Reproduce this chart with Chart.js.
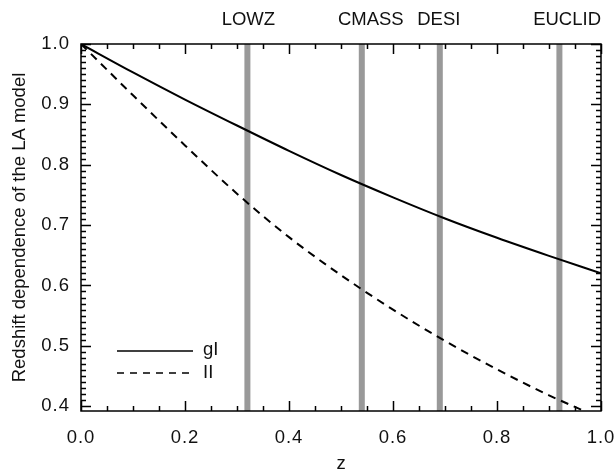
<!DOCTYPE html>
<html><head><meta charset="utf-8">
<script src="https://cdn.jsdelivr.net/npm/chart.js@4/dist/chart.umd.min.js"></script>
<style>html,body{margin:0;padding:0;background:#fff}#wrap{width:615px;height:475px}</style>
</head><body><div id="wrap"><canvas id="c" width="615" height="475"></canvas></div>
<script>
const zValues = [0.0,0.1,0.2,0.3,0.4,0.5,0.6,0.7,0.8,0.9,1.0];
const gIValues = [1.000,0.953,0.908,0.865,0.823,0.783,0.746,0.711,0.679,0.649,0.620];
const IIValues = [1.000,0.915,0.832,0.752,0.680,0.617,0.560,0.508,0.461,0.418,0.380];
const surveyNames = ['LOWZ','CMASS','DESI','EUCLID'];
const surveyZ = [0.32,0.54,0.69,0.92];
const yTickValues = [0.4,0.5,0.6,0.7,0.8,0.9,1.0];
const xTickValues = [0.0,0.2,0.4,0.6,0.8,1.0];
const seriesNames = ['gI','II'];
const Y_MIN = 0.392, Y_MAX = 1.0;
const FONT = '"Liberation Sans", Arial, Helvetica, sans-serif';
const FS = 18.5;
// label nudges in pixels (layout only)
const surveyLabelShift = [1, 9, -1, 0];

const datasets = [];
surveyZ.forEach((z,i)=>{
  datasets.push({label:surveyNames[i], data:[{x:z,y:Y_MIN},{x:z,y:Y_MAX}], borderColor:'#999999', borderWidth:6, pointRadius:0, borderCapStyle:'butt', order:2});
});
datasets.push({label:seriesNames[0], data:zValues.map((z,i)=>({x:z,y:gIValues[i]})), borderColor:'#000', borderWidth:2, pointRadius:0, cubicInterpolationMode:'monotone', order:1});
datasets.push({label:seriesNames[1], data:zValues.map((z,i)=>({x:z,y:IIValues[i]})), borderColor:'#000', borderWidth:2, borderDash:[8,6], pointRadius:0, cubicInterpolationMode:'monotone', order:1});

function wrapSpacing(obj, name, sp){
  const orig = obj[name];
  obj[name] = function(){ const c = this.ctx; c.letterSpacing = sp; const r = orig.apply(this, arguments); c.letterSpacing = '0px'; return r; };
}

const decor = {
  id:'decor',
  afterLayout(chart){
    ['x','y'].forEach(id=>{
      const s = chart.scales[id];
      if (s._wrapped) return; s._wrapped = true;
      wrapSpacing(s, 'drawLabels', '1px');
    });
  },
  afterDraw(chart){
    const ctx = chart.ctx, a = chart.chartArea, xs = chart.scales.x, ys = chart.scales.y;
    ctx.save();
    ctx.strokeStyle = '#000'; ctx.lineWidth = 1.5; ctx.setLineDash([]);
    ctx.strokeRect(a.left, a.top, a.right-a.left, a.bottom-a.top);
    ctx.beginPath();
    for (let k=0;k<=20;k++){
      const px = Math.round(xs.getPixelForValue(k*0.05))+0.5;
      const len = (k%4===0)?10:5;
      ctx.moveTo(px,a.bottom); ctx.lineTo(px,a.bottom-len);
      ctx.moveTo(px,a.top); ctx.lineTo(px,a.top+len);
    }
    for (let k=39;k<=100;k++){
      const v = k/100; if (v < Y_MIN-1e-9) continue;
      const py = Math.round(ys.getPixelForValue(v))+0.5;
      const len = (k%10===0)?10:5;
      ctx.moveTo(a.left,py); ctx.lineTo(a.left+len,py);
      ctx.moveTo(a.right,py); ctx.lineTo(a.right-len,py);
    }
    ctx.stroke();
    ctx.fillStyle = '#111'; ctx.font = FS+'px '+FONT; ctx.textBaseline = 'middle';
    surveyNames.forEach((n,i)=>{
      const px = xs.getPixelForValue(surveyZ[i]);
      const w = ctx.measureText(n).width;
      let cx = px + surveyLabelShift[i];
      if (i===surveyNames.length-1) cx = a.right - w/2;
      ctx.textAlign='center'; ctx.fillText(n, cx, 20);
    });
    const lx0 = a.left+36, lx1 = a.left+112, ly1 = a.bottom-60, ly2 = a.bottom-38;
    ctx.lineWidth = 1.5;
    ctx.beginPath(); ctx.moveTo(lx0,ly1); ctx.lineTo(lx1,ly1); ctx.stroke();
    ctx.setLineDash([7,6]);
    ctx.beginPath(); ctx.moveTo(lx0,ly2); ctx.lineTo(lx1,ly2); ctx.stroke();
    ctx.setLineDash([]);
    ctx.textAlign='left';
    ctx.fillText(seriesNames[0], lx1+10, ly1-1);
    ctx.fillText(seriesNames[1], lx1+10, ly2);
    ctx.restore();
  }
};

new Chart(document.getElementById('c'), {
  type:'line',
  data:{datasets},
  plugins:[decor],
  options:{
    responsive:false, animation:false, devicePixelRatio:1,
    layout:{autoPadding:false, padding:{top:44,right:14,left:0,bottom:0}},
    plugins:{legend:{display:false}, tooltip:{enabled:false}},
    scales:{
      x:{type:'linear', min:0, max:1,
        afterFit(s){ s.height = 64; s.paddingLeft = 0; s.paddingRight = 0; },
        afterBuildTicks(s){ s.ticks = xTickValues.map(v=>({value:v})); },
        grid:{display:false, drawTicks:false}, border:{display:false},
        ticks:{padding:16, color:'#111', font:{family:FONT,size:FS}, maxRotation:0, autoSkip:false, callback:v=>Number(v).toFixed(1)},
        title:{display:true, text:'z', color:'#111', font:{family:FONT,size:FS}, padding:{top:2,bottom:0}}
      },
      y:{type:'linear', min:Y_MIN, max:Y_MAX,
        afterFit(s){ s.width = 81; s.paddingTop = 0; s.paddingBottom = 0; },
        afterBuildTicks(s){ s.ticks = yTickValues.map(v=>({value:v})); },
        grid:{display:false, drawTicks:false}, border:{display:false},
        ticks:{padding:11, color:'#111', font:{family:FONT,size:FS}, autoSkip:false, callback:v=>Number(v).toFixed(1)},
        title:{display:true, text:'Redshift dependence of the LA model', color:'#111', font:{family:FONT,size:FS}, padding:{top:9,bottom:0}}
      }
    }
  }
});
</script></body></html>
